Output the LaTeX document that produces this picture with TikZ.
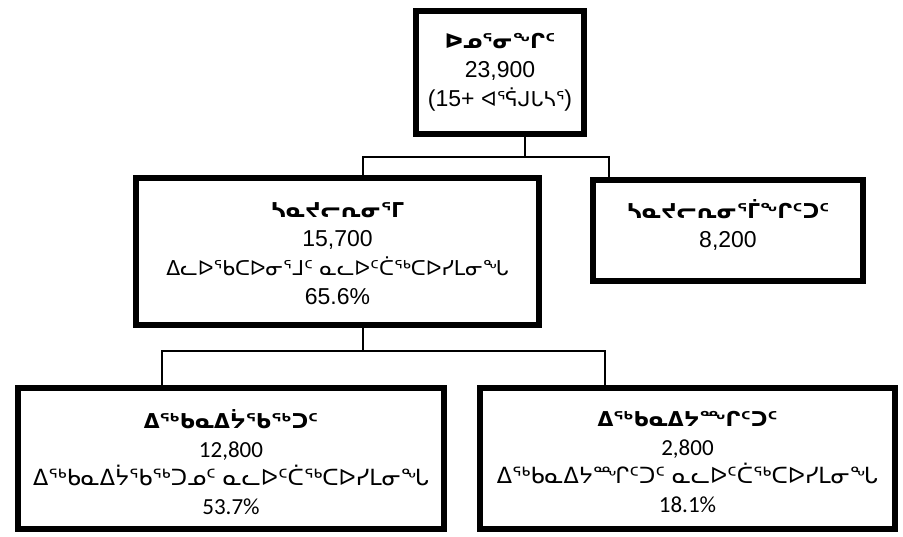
\documentclass[tikz,border=0pt]{standalone}
\usepackage{fontspec}
\setmainfont{Liberation Sans}
\newfontfamily\syl[Scale=0.89]{DejaVu Sans}
\newfontfamily\sylwide[Scale=0.97]{DejaVu Sans}
\newfontfamily\calibri{Carlito}
\usepackage{tikz}

\tikzset{
  box/.style={draw, line width=5.5pt, inner sep=0pt},
  txt/.style={align=center, inner sep=0pt, font=\fontsize{23}{29}\selectfont},
  txtb/.style={align=center, inner sep=0pt, font=\calibri\fontsize{23}{28.5}\selectfont},
  link/.style={line width=1.2pt}
}

\begin{document}
\begin{tikzpicture}[x=1pt,y=-1pt]
\useasboundingbox (0,0) rectangle (903,537);

\node[box, minimum width=168pt, minimum height=123pt] (total) at (500,72.5) {};
\node[box, minimum width=403pt, minimum height=147pt] (force) at (337.5,251.5) {};
\node[box, minimum width=270pt, minimum height=101pt] (notforce) at (728,230.5) {};
\node[box, minimum width=426pt, minimum height=141pt] (emp) at (231,458.5) {};
\node[box, minimum width=415pt, minimum height=141pt] (unemp) at (687.5,458.5) {};

\node[txt] (ttotal) at (total.center) {{\syl\bfseries ᐅᓄᕐᓂᖏᑦ}\\23,900\\(15+ {\syl ᐊᕐᕌᒍᒐᓴᕐ})};
\node[txt] (tforce) at ([yshift=-2.5pt]force.center) {{\syl\bfseries ᓴᓇᔪᓕᕆᓂᕐᒥ}\\15,700\\{\syl ᐃᓚᐅᖃᑕᐅᓂᕐᒧᑦ ᓇᓚᐅᑦᑖᖅᑕᐅᓯᒪᓂᖓ}\\65.6\%};
\node[txt] (tnotforce) at ([yshift=5.5pt]notforce.center) {{\syl\bfseries ᓴᓇᔪᓕᕆᓂᕐᒦᖏᑦᑐᑦ}\\8,200};
\node[txtb] (temp) at ([yshift=-3.5pt]emp.center) {{\syl\bfseries ᐃᖅᑲᓇᐃᔮᖃᖅᑐᑦ}\\12,800\\{\sylwide ᐃᖅᑲᓇᐃᔮᖃᖅᑐᓄᑦ ᓇᓚᐅᑦᑖᖅᑕᐅᓯᒪᓂᖓ}\\53.7\%};
\node[txtb] (tunemp) at ([yshift=-3.5pt]unemp.center) {{\syl\bfseries ᐃᖅᑲᓇᐃᔭᙱᑦᑐᑦ}\\2,800\\{\sylwide ᐃᖅᑲᓇᐃᔭᙱᑦᑐᑦ ᓇᓚᐅᑦᑖᖅᑕᐅᓯᒪᓂᖓ}\\18.1\%};

\coordinate (top) at (525,157);
\coordinate (left) at (363,157);
\coordinate (right) at (609,157);
\coordinate (mid) at (363,351);
\coordinate (bleft) at (162,351);
\coordinate (bright) at (605,351);

\draw[link] (total.south -| top) -- (top);
\draw[link] (force.north -| left) -- (left) -- (right) -- (notforce.north -| right);
\draw[link] (force.south -| mid) -- (mid);
\draw[link] (emp.north -| bleft) -- (bleft) -- (bright) -- (unemp.north -| bright);
\end{tikzpicture}
\end{document}
